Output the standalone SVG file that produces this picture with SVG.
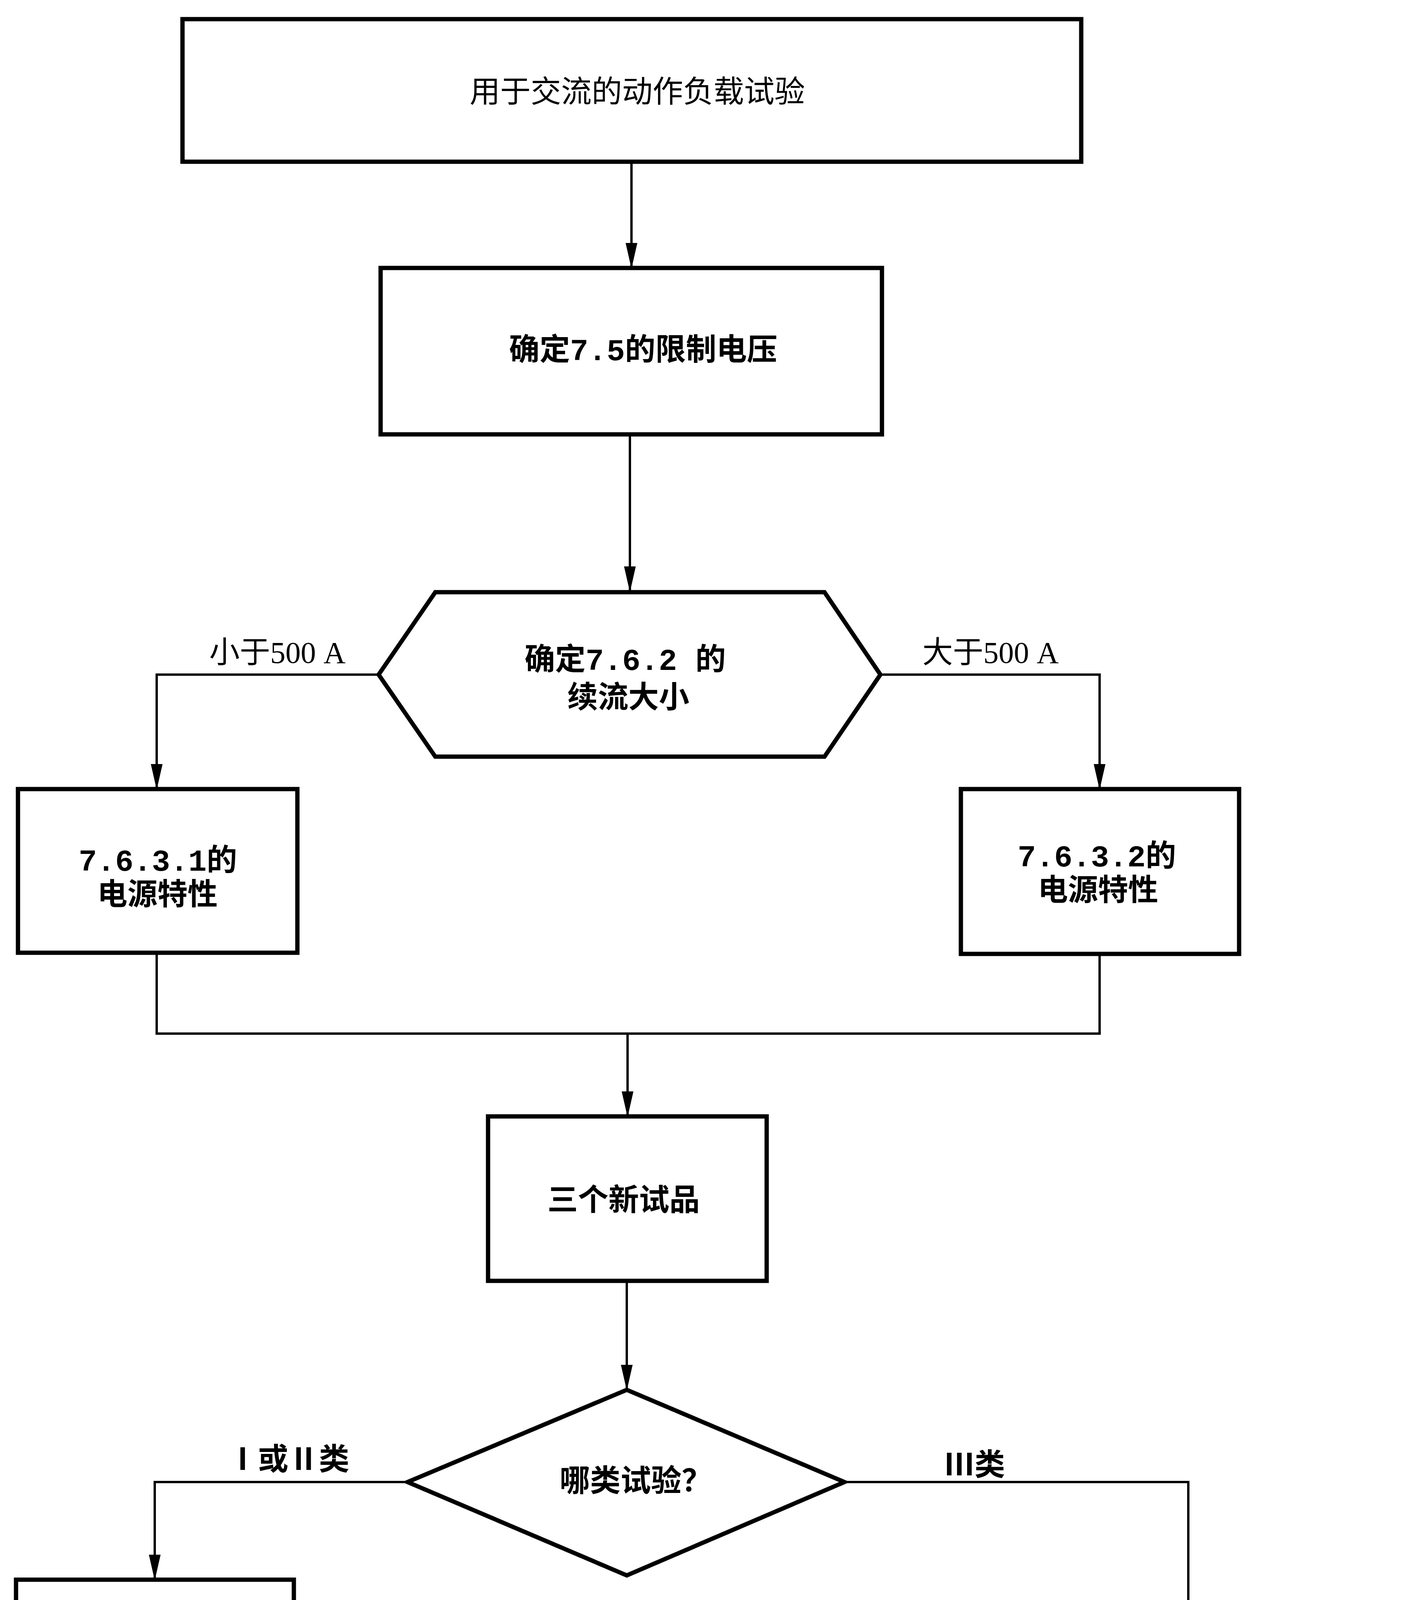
<svg xmlns="http://www.w3.org/2000/svg" width="3593" height="6903" viewBox="0 0 3593 6903">
<style>
.box{fill:#fff;stroke:#000;stroke-width:11;stroke-linejoin:miter}
.conn{fill:none;stroke:#000;stroke-width:6}
.t{font-family:"Noto Sans CJK SC","Noto Sans CJK TC",sans-serif;font-size:78px;text-anchor:middle;fill:#000}
.mx{font-family:"Liberation Mono","Noto Sans CJK SC","Noto Sans CJK TC",monospace}
.b{font-weight:700}
.s{font-family:"Liberation Serif","Noto Sans CJK SC","Noto Sans CJK TC",serif}
</style>
<defs>
<marker id="arr" markerUnits="userSpaceOnUse" markerWidth="66" markerHeight="30" viewBox="0 0 66 30" refX="64" refY="15" orient="auto">
<path d="M0,0 L66,15 L0,30 Z" fill="#000"/>
</marker>
</defs>
<rect x="0" y="0" width="3593" height="6903" fill="#fff"/>

<g id="connectors">
<path class="conn" d="M1616,414 V686" marker-end="url(#arr)"/>
<path class="conn" d="M1612,1112 V1514" marker-end="url(#arr)"/>
<polyline class="conn" points="969,1727 401,1727 401,2020" marker-end="url(#arr)"/>
<polyline class="conn" points="2253,1727 2814,1727 2814,2020" marker-end="url(#arr)"/>
<polyline class="conn" points="401,2439 401,2646 2814,2646 2814,2442"/>
<path class="conn" d="M1606,2646 V2858" marker-end="url(#arr)"/>
<path class="conn" d="M1604,3279 V3558" marker-end="url(#arr)"/>
<polyline class="conn" points="1043,3794 396,3794 396,4044" marker-end="url(#arr)"/>
<polyline class="conn" points="2161,3794 3041,3794 3041,4398" marker-end="url(#arr)"/>
<path class="conn" d="M392,4466 V4815" marker-end="url(#arr)"/>
<polyline class="conn" points="390,5238 390,5515 3036,5515 3036,4815"/>
<path class="conn" d="M1581,5515 V5794" marker-end="url(#arr)"/>
<path class="conn" d="M1577,6214 V6497" marker-end="url(#arr)"/>
<text class="t s" x="710" y="1697" font-size="80">小于500 A</text>
<text class="t s" x="2535" y="1697" font-size="80">大于500 A</text>
<text class="t b" x="738" y="3763" font-size="74">Ⅰ或Ⅱ类</text>
<text class="t b" x="2494" y="3777" font-size="74">Ⅲ类</text>
</g>

<g id="start">
<rect class="box" x="467" y="49" width="2300" height="365"/>
<text class="t" x="1631" y="262" font-size="79">用于交流的动作负载试验</text>
</g>

<g id="limit-voltage">
<rect class="box" x="974" y="686" width="1283" height="426"/>
<text class="t mx b" x="1646" y="922" font-size="80">确定7.5的限制电压</text>
</g>

<g id="follow-current">
<polygon class="box" points="1114,1516 2110,1516 2253,1727 2110,1937 1114,1937 969,1727"/>
<text class="t mx b" font-size="76"><tspan x="1600" y="1715">确定7.6.2 的</tspan><tspan x="1608" y="1812">续流大小</tspan></text>
</g>

<g id="supply-7631">
<rect class="box" x="46" y="2020" width="715" height="419"/>
<text class="t mx b" font-size="74"><tspan x="404" y="2229">7.6.3.1的</tspan><tspan x="403" y="2316" font-size="77">电源特性</tspan></text>
</g>

<g id="supply-7632">
<rect class="box" x="2459" y="2020" width="712" height="422"/>
<text class="t mx b" font-size="76"><tspan x="2807" y="2218">7.6.3.2的</tspan><tspan x="2810" y="2305" font-size="77">电源特性</tspan></text>
</g>

<g id="three-samples">
<rect class="box" x="1249" y="2858" width="713" height="421"/>
<text class="t b" x="1596" y="3099" font-size="79">三个新试品</text>
</g>

<g id="which-class">
<polygon class="box" points="1604,3558 2161,3794 1604,4033 1043,3794"/>
<text class="t b" x="1627" y="3818" font-size="76">哪类试验？</text>
</g>

<g id="precond-764">
<rect class="box" x="41" y="4044" width="711" height="422"/>
<text class="t mx b"><tspan x="380" y="4240">7.6.4的</tspan><tspan x="376" y="4331" font-size="79">预处理试验</tspan></text>
</g>

<g id="duty-765">
<rect class="box" x="34" y="4815" width="718" height="423"/>
<text class="t mx b"><tspan x="404" y="5003">7.6.5的动作</tspan><tspan x="386" y="5098">负载试验</tspan></text>
</g>

<g id="duty-767">
<rect class="box" x="2452" y="4398" width="1200" height="417"/>
<text class="t mx b"><tspan x="3055" y="4598">7.6.7的预处理试验和</tspan><tspan x="3049" y="4693" font-size="79">动作负载试验</tspan></text>
</g>

<g id="criteria-766">
<rect class="box" x="1221" y="5794" width="715" height="420"/>
<text class="t mx b"><tspan x="1564" y="5991">7.6.6的合格</tspan><tspan x="1560" y="6082" font-size="79">判定标准</tspan></text>
</g>

<g id="done">
<rect class="box" x="1222" y="6497" width="710" height="500"/>
<text class="t b" x="1562" y="6732">试验完成</text>
</g>
</svg>
